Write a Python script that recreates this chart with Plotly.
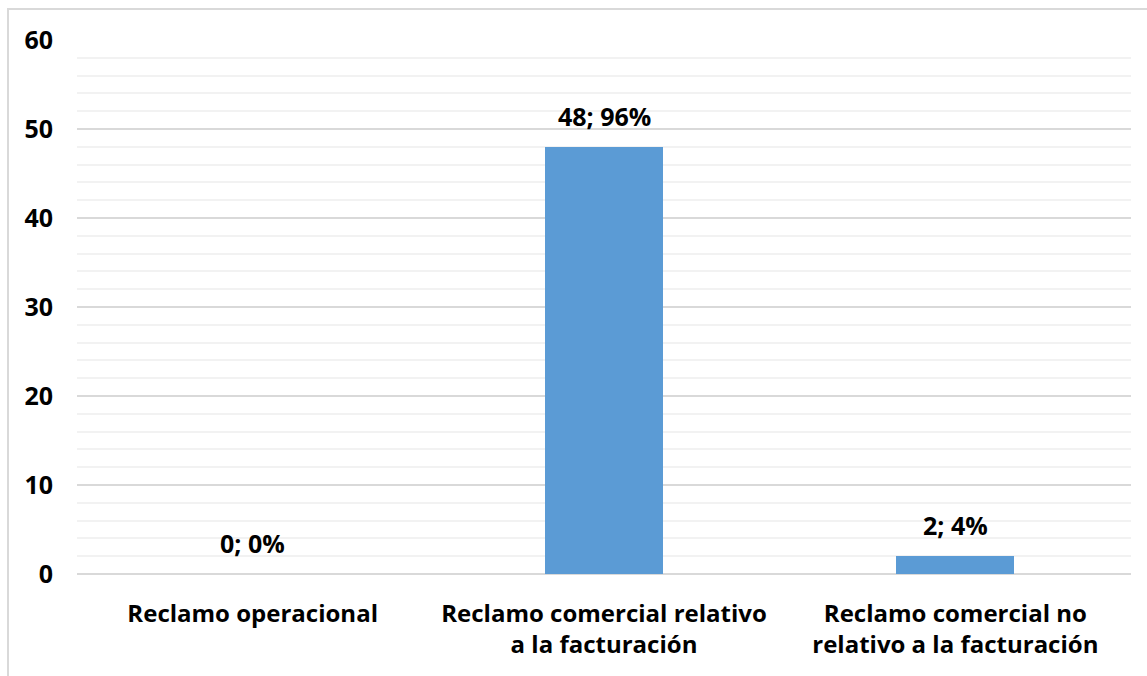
import plotly.graph_objects as go

categories = ["Reclamo operacional",
              "Reclamo comercial relativo<br>a la facturación",
              "Reclamo comercial no<br>relativo a la facturación"]
counts = [0, 48, 2]
percents = ["0%", "96%", "4%"]

labels = [f"{c}; {p}" for c, p in zip(counts, percents)]

W, H = 1147, 676
ml, mr, mt, mb = 77, 16, 40, 102
pw, ph = W - ml - mr, H - mt - mb

FONT = "Open Sans"

fig = go.Figure(go.Bar(
    x=categories, y=counts,
    marker=dict(color="#5B9BD5", line=dict(width=0)),
    width=0.335, cliponaxis=False,
))

for c, v, t in zip(categories, counts, labels):
    fig.add_annotation(x=c, y=v, text=t, showarrow=False,
                       yanchor="bottom", yshift=12,
                       font=dict(family=FONT, size=25, color="#000000", weight="bold"))

fig.update_layout(
    width=W, height=H,
    margin=dict(l=ml, r=mr, t=mt, b=mb, pad=0),
    paper_bgcolor="white", plot_bgcolor="white",
    font=dict(family=FONT, size=24, color="#000000", weight="bold"),
    showlegend=False,
    bargap=0,
)
fig.update_yaxes(
    range=[0, 60], dtick=10, tick0=0,
    showgrid=True, gridcolor="#d9d9d9", gridwidth=1.5,
    zeroline=True, zerolinecolor="#d9d9d9", zerolinewidth=1.5,
    minor=dict(dtick=2, showgrid=True, gridcolor="#f2f2f2", gridwidth=1.5),
    ticks="", ticklabelstandoff=23,
    tickfont=dict(family=FONT, size=25, weight="bold"),
    showline=False,
)
fig.update_xaxes(
    showgrid=False, showline=False, ticks="",
    ticklabelstandoff=23,
    tickfont=dict(family=FONT, size=24, weight="bold"),
)

# chart outer border
fig.add_shape(type="rect", xref="paper", yref="paper",
              x0=(8 - ml) / pw, x1=(W + 5 - ml) / pw,
              y0=-(H + 5 - mt - ph) / ph, y1=(H - 9 - mb) / ph,
              line=dict(color="#d9d9d9", width=2), layer="below")

fig.write_html("out.html")
